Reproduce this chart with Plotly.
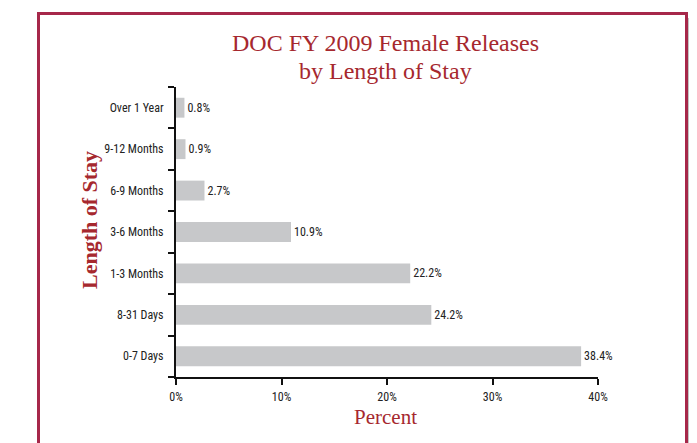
import plotly.graph_objects as go

stays = ["0-7 Days", "8-31 Days", "1-3 Months", "3-6 Months",
         "6-9 Months", "9-12 Months", "Over 1 Year"]
percent = [38.4, 24.2, 22.2, 10.9, 2.7, 0.9, 0.8]
x_ticks = [0, 10, 20, 30, 40]
x_tick_text = ["0%", "10%", "20%", "30%", "40%"]

RED = "#a6282e"
BORDER = "#a6284a"
narrow = "Liberation Sans Narrow, Arial Narrow, Roboto Condensed, Liberation Sans, sans-serif"
serif = "Liberation Serif, Times New Roman, serif"

# plot area in page pixels (page is drawn 8px in from the window edge)
L, R, T, B = 168, 590, 79, 369
PW, PH = R - L, B - T


def px(x):
    return (x - 8 - L) / PW


def py(y):
    return (B - (y - 8)) / PH


fig = go.Figure(go.Bar(
    x=percent,
    y=stays,
    orientation="h",
    marker=dict(color="#c7c8ca", line=dict(width=0)),
    width=0.48,
    text=[f"{v:.1f}%" for v in percent],
    textposition="outside",
    textfont=dict(family=narrow, size=12, color="#222222"),
    cliponaxis=False,
))

# drop shadow + framed box
fig.add_shape(type="rect", xref="paper", yref="paper", layer="below",
              x0=px(45), x1=px(696), y0=py(480), y1=py(18),
              line=dict(width=0), fillcolor="#c4c4c4")
fig.add_shape(type="rect", xref="paper", yref="paper", layer="below",
              x0=px(38.5), x1=px(686.5), y0=py(480), y1=py(13.5),
              line=dict(color=BORDER, width=3), fillcolor="white")

title_font = dict(family=serif, size=24, color=RED)
fig.add_annotation(text="DOC FY 2009 Female Releases", xref="paper", yref="paper",
                   x=px(385.5), y=py(43), xanchor="center", yanchor="middle",
                   showarrow=False, font=title_font)
fig.add_annotation(text="by Length of Stay", xref="paper", yref="paper",
                   x=px(385.5), y=py(71), xanchor="center", yanchor="middle",
                   showarrow=False, font=title_font)
fig.add_annotation(text="<b>Length of Stay</b>", xref="paper", yref="paper",
                   x=px(89), y=py(220), xanchor="center", yanchor="middle",
                   textangle=-90, showarrow=False,
                   font=dict(family=serif, size=22, color=RED))
fig.add_annotation(text="Percent", xref="paper", yref="paper",
                   x=px(385.5), y=py(417), xanchor="center", yanchor="middle",
                   showarrow=False,
                   font=dict(family=serif, size=21, color=RED))

fig.update_layout(
    width=697, height=443,
    margin=dict(l=L, r=697 - R, t=T, b=443 - B),
    paper_bgcolor="white", plot_bgcolor="white",
    showlegend=False,
    xaxis=dict(range=[0, 40], tickvals=x_ticks, ticktext=x_tick_text,
               showgrid=False, zeroline=False, showline=True,
               linecolor="#111111", linewidth=2, ticks="outside",
               ticklen=6, tickwidth=2, tickcolor="#111111",
               ticklabelstandoff=2,
               tickfont=dict(family=narrow, size=12, color="#222222")),
    yaxis=dict(type="category", categoryorder="array", categoryarray=stays,
               showgrid=False, showline=True, linecolor="#111111",
               linewidth=2, ticks="outside", tickson="boundaries",
               ticklen=6, tickwidth=2, tickcolor="#111111",
               ticklabelstandoff=8,
               tickfont=dict(family=narrow, size=12, color="#222222")),
)

fig.write_html("out.html")
